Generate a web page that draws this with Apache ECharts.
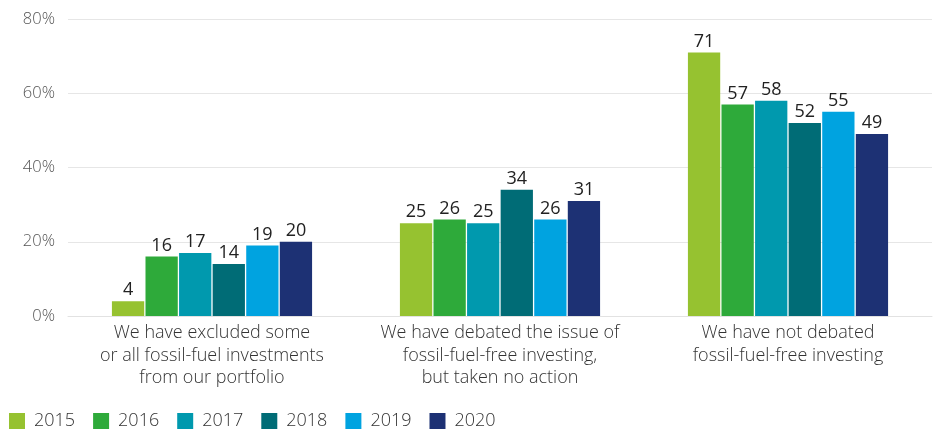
<!DOCTYPE html>
<html><head><meta charset="utf-8">
<script src="https://cdn.jsdelivr.net/npm/echarts@6/dist/echarts.min.js"></script>
<style>html,body{margin:0;padding:0;background:#fff}#c{width:936px;height:436px}</style>
</head><body><div id="c"></div>
<script>
const categories = [
  "We have excluded some\nor all fossil-fuel investments\nfrom our portfolio",
  "We have debated the issue of\nfossil-fuel-free investing,\nbut taken no action",
  "We have not debated\nfossil-fuel-free investing"
];
const years = ["2015","2016","2017","2018","2019","2020"];
const v2015 = [4, 25, 71];
const v2016 = [16, 26, 57];
const v2017 = [17, 25, 58];
const v2018 = [14, 34, 52];
const v2019 = [19, 26, 55];
const v2020 = [20, 31, 49];
const yTicks = [0, 20, 40, 60, 80];
const colors = ["#96c230","#2eaa3a","#0099ae","#006c76","#00a3e0","#1d3174"];
const values = [v2015, v2016, v2017, v2018, v2019, v2020];

const chart = echarts.init(document.getElementById('c'));
chart.setOption({
  animation: false,
  textStyle: {fontFamily: "Open Sans"},
  grid: {left: 68, right: 4, top: 19, bottom: 120},
  legend: {
    left: 4, bottom: 1, itemWidth: 16, itemHeight: 16, itemGap: 18,
    icon: 'rect',
    textStyle: {fontSize: 18, color: '#333', fontFamily: "Open Sans", fontWeight: 300, padding: [0,0,0,4]},
    data: years
  },
  xAxis: {
    type: 'category', data: categories,
    axisLine: {show: true, lineStyle: {color: '#e2e2e2'}},
    axisTick: {show: false},
    axisLabel: {fontSize: 18, fontWeight: 300, color: '#333', lineHeight: 22.5, margin: 6, interval: 0}
  },
  yAxis: {
    type: 'value', min: yTicks[0], max: yTicks[yTicks.length-1], interval: 20,
    axisLabel: {formatter: '{value}%', fontSize: 16.5, fontWeight: 300, color: '#555', margin: 13},
    splitLine: {lineStyle: {color: '#e6e6e6'}},
    axisLine: {show: false}, axisTick: {show: false}
  },
  series: years.map((y, i) => ({
    name: y, type: 'bar', data: values[i],
    barGap: '4%', barCategoryGap: '30.5%',
    itemStyle: {color: colors[i]},
    label: {show: true, position: 'top', fontSize: 18, color: '#222', distance: 2}
  }))
});
</script></body></html>
